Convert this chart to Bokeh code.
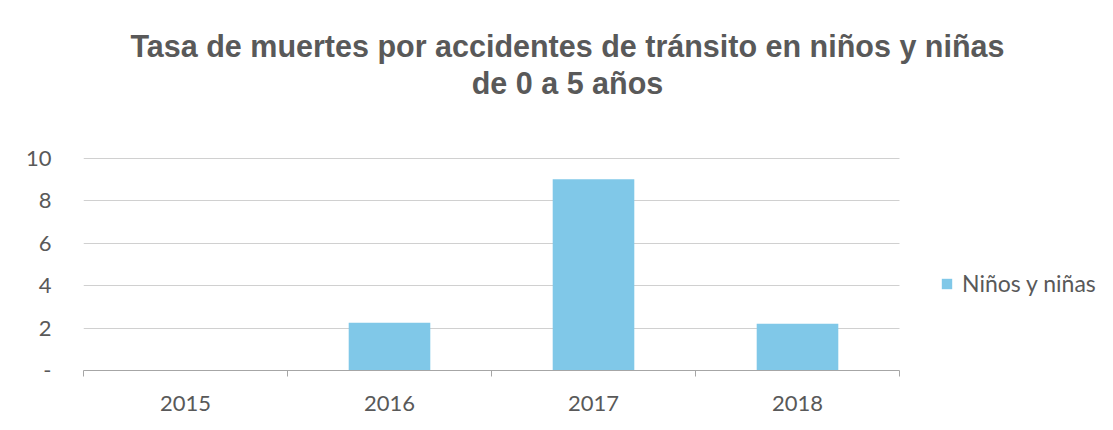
import numpy as np
from bokeh.plotting import figure
from bokeh.models import (Range1d, FixedTicker, Label, Legend, LegendItem,
                          ColumnDataSource, BoxAnnotation)
from bokeh.embed import file_html
from bokeh.resources import INLINE

# ---- data ----
years = ["2015", "2016", "2017", "2018"]
tasa = [0.0, 2.25, 9.0, 2.2]
series_name = "Niños y niñas"
y_ticks = [0, 2, 4, 6, 8, 10]
y_tick_labels = ["-", "2", "4", "6", "8", "10"]
title_line1 = "Tasa de muertes por accidentes de tránsito en niños y niñas"
title_line2 = "de 0 a 5 años"

GRAY_TXT = "#595959"
BAR = "#80C8E8"

# ---- layout (pixels) ----
W, H = 1097, 414
LEFT, BOTTOM = 83, 44
PLOT_TOP = 157.5        # where the value 10 sits, from the top of the figure
CAT_W = 204             # pixel width of one category
frame_h = H - BOTTOM
frame_w = W - LEFT
y_max = max(y_ticks)
y_end = y_max * frame_h / (frame_h - PLOT_TOP)
x_end = frame_w / CAT_W

n = len(years)
xpos = np.arange(n) + 0.5
src = ColumnDataSource(dict(x=xpos, top=tasa, year=years))

p = figure(width=W, height=H, output_backend="svg", toolbar_location=None,
           x_range=Range1d(0, x_end), y_range=Range1d(0, y_end),
           min_border_left=LEFT, min_border_right=0, min_border_top=0,
           min_border_bottom=BOTTOM, background_fill_color="white",
           border_fill_color="white", outline_line_color=None)

r = p.vbar(x="x", top="top", width=0.4, source=src, fill_color=BAR,
           line_color=None)

# axes
p.xaxis.ticker = FixedTicker(ticks=list(xpos), minor_ticks=list(range(n + 1)))
p.xaxis.bounds = (0, n)
p.xaxis.major_label_overrides = {float(x): y for x, y in zip(xpos, years)}
p.xaxis.major_tick_line_color = None
p.xaxis.minor_tick_line_color = "#A6A6A6"
p.xaxis.minor_tick_in = 0
p.xaxis.minor_tick_out = 6
p.xaxis.axis_line_color = "#A6A6A6"
p.xaxis.major_label_text_font = "Lato"
p.xaxis.major_label_text_font_size = "22px"
p.xaxis.major_label_text_color = GRAY_TXT
p.xaxis.major_label_standoff = 19

p.yaxis.ticker = FixedTicker(ticks=y_ticks)
p.yaxis.bounds = (0, y_max)
p.yaxis.major_label_overrides = {t: l for t, l in zip(y_ticks, y_tick_labels)}
p.yaxis.axis_line_color = None
p.yaxis.major_tick_line_color = None
p.yaxis.minor_tick_line_color = None
p.yaxis.major_label_text_font = "Lato"
p.yaxis.major_label_text_font_size = "22px"
p.yaxis.major_label_text_color = GRAY_TXT
p.yaxis.major_label_standoff = 26

p.xgrid.grid_line_color = None
p.ygrid.grid_line_color = "#D0D0D0"
p.ygrid.grid_line_width = 1
if hasattr(p.ygrid[0], "cross_bounds"):
    p.ygrid.cross_bounds = (0, n)
else:
    p.add_layout(BoxAnnotation(left=n, fill_color="white", fill_alpha=1,
                               line_color=None, level="underlay"))

# titles (screen units relative to the plot frame)
for txt, yy in [(title_line1, 325), (title_line2, 288)]:
    p.add_layout(Label(x=484, y=yy, x_units="screen", y_units="screen",
                       text=txt, text_align="center",
                       text_baseline="alphabetic", text_font="Liberation Sans",
                       text_font_size="30.5px", text_font_style="bold",
                       text_color=GRAY_TXT))

legend = Legend(items=[LegendItem(label=series_name, renderers=[r])],
                location=(857, 73), border_line_color=None,
                background_fill_alpha=0, label_text_font="Lato",
                label_text_font_size="23px", label_text_color=GRAY_TXT,
                glyph_width=13, glyph_height=13, label_standoff=9,
                padding=0, margin=0)
p.add_layout(legend, "center")

open("out.html", "w").write(file_html(p, INLINE))
